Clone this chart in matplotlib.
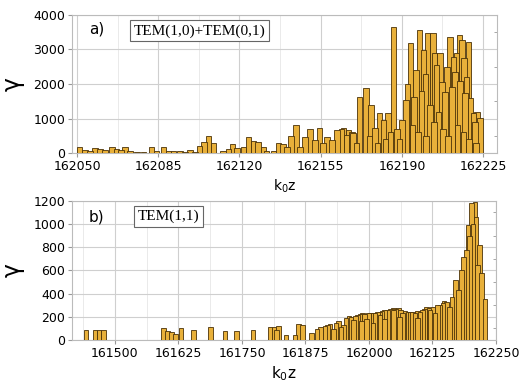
import matplotlib
matplotlib.use("Agg")
import matplotlib.pyplot as plt
from matplotlib.ticker import MultipleLocator

# ---------------- data: panel a) ----------------
a_pos = [162051, 162053.4, 162055.6, 162057.8, 162059.9, 162062, 162065, 162067,
         162068.8, 162070.7, 162072.8, 162075.7, 162078.6, 162082, 162084.3,
         162087.2, 162089.4, 162091.5, 162094.4, 162096.6,
         162098.7, 162100.9, 162102.7, 162104.7, 162106.6, 162108.8,
         162113, 162115.2, 162117, 162119, 162121.7, 162123.8, 162126, 162128,
         162130.3, 162131.7,
         162134.6, 162136.8, 162138.7, 162140.4, 162142.2, 162144.4, 162146,
         162148.3, 162150.4, 162152.6, 162154.5, 162156, 162157.6, 162159.8,
         162162, 162164, 162166.2, 162168.4,
         162164.8, 162167, 162169, 162171.7, 162174.6, 162176.6, 162178.4,
         162180.3, 162182, 162184, 162186.3, 162187.8, 162190, 162191.8,
         162193.8, 162195.3, 162197.5, 162199.3, 162201, 162203.3, 162205,
         162206.5, 162207.2, 162208.6, 162210.8, 162212.2, 162212.9, 162214.8,
         162215.8, 162216.8, 162217.2, 162218.7, 162220.8, 162221.5, 162222.5,
         162223.7,
         162192.5, 162196, 162198.5, 162200.2, 162202, 162204, 162205.8,
         162209.5, 162211.5, 162213.5, 162215, 162217.8, 162219.5, 162194.5,
         162197, 162200.5, 162203.8, 162207.8, 162210, 162214, 162216.5,
         162219, 162222, 162185, 162189, 162176, 162179.5, 162183, 162170.5]
a_val = [184, 87, 60, 155, 130, 90, 184, 120, 80, 184, 50, 40, 40, 184, 50,
         184, 60, 50, 50, 40,
         87, 40, 212, 328, 493, 300,
         50, 110, 251, 135, 184, 473, 357, 328, 184, 60,
         60, 300, 260, 184, 493, 811, 184, 473, 686, 377, 715, 280, 473, 377,
         666, 686, 520, 618,
         715, 667, 570, 1633, 1874, 1391, 715, 1150, 957, 1150, 3662, 700,
         957, 1536, 3179, 1633, 3565, 2985, 3469, 3469, 2550, 2889, 2068,
         1778, 3372, 2792, 2357, 3420, 3275, 2744, 1730, 3227, 1150, 908,
         1198, 1005,
         2000, 2400, 1800, 2300, 1400, 2900, 1200, 2500, 1900, 2900, 2100,
         2200, 1600, 800, 600, 500, 900, 700, 500, 800, 600, 400, 300, 600,
         400, 500, 300, 400, 300]

# ---------------- data: panel b) ----------------
b_pos = [161443, 161460.6, 161468.5, 161477.8,
         161595, 161603, 161611, 161619.4, 161630, 161654, 161688, 161716.5,
         161739.5, 161772, 161805, 161813, 161821.5, 161818, 161837, 161854,
         161861, 161869.5, 161887, 161898, 161913, 161923, 161930, 161939.6,
         161950, 161961, 161969, 161977, 161987.5, 161995, 162003, 162012,
         162021.6, 162036, 162048, 162057.7, 162066, 162077, 162090.6,
         162100.4, 162113.6,
         162022, 162048, 162081, 162120, 162140, 162153, 162163, 162176,
         162186, 162192, 162195, 162202, 162209, 162211, 162218, 162222,
         162228,
         162030, 162060, 162095, 162130, 162158, 162170, 162182, 162198,
         162205, 162214, 162008, 161985, 161945,
         161905, 161918, 161935, 161955, 161965, 161973, 161982, 161991,
         161999, 162008, 162017, 162026, 162031, 162042, 162053, 162062,
         162071, 162083, 162086, 162095, 162105, 162109, 162118, 162125,
         162135, 162146, 162148]
b_val = [86, 86, 86, 86,
         106, 80, 72, 52, 106, 86, 115, 80,
         80, 86, 115, 115, 123, 90, 43, 43,
         138, 130, 57, 98, 120, 138, 95, 167,
         130, 207, 172, 215, 230, 178, 236, 230,
         215, 258, 273, 273, 236, 244, 230,
         244, 282,
         244, 259, 244, 260, 300, 330, 374, 430,
         718, 776, 990, 1178, 1190, 1063, 820, 575,
         350,
         180, 200, 190, 230, 280, 520, 600, 900,
         1000, 650, 150, 160, 110,
         110, 130, 150, 190, 200, 210, 220, 225,
         230, 235, 240, 250, 255, 265, 270, 260,
         250, 245, 240, 250, 255, 265, 275, 285,
         300, 320, 340]

FACE = "#E8B03A"
EDGE = "#4a3208"
GRID = "#cfcfcf"

plt.rcParams['font.family'] = ['DejaVu Sans']

fig = plt.figure(figsize=(5.24, 3.85), dpi=100)
ax1 = fig.add_axes([72/524, 1-153/385, (497-72)/524, 138/385])
ax2 = fig.add_axes([72/524, 1-340/385, (496-72)/524, 139.3/385])


def draw(ax, pos, val, width):
    order = sorted(range(len(val)), key=lambda i: -val[i])
    ax.bar([pos[i] for i in order], [val[i] for i in order], width=width,
           color=FACE, edgecolor=EDGE, linewidth=0.6, zorder=3)
    ax.grid(True, which='major', color=GRID, linewidth=0.8, zorder=0)
    ax.grid(True, which='minor', axis='x', color="#e6e6e6", linewidth=0.6, zorder=0)
    for s in ax.spines.values():
        s.set_color("#bbbbbb")
        s.set_linewidth(0.8)
    ax.tick_params(axis='both', which='major', labelsize=9, length=3,
                   color="#999999", pad=2)
    ax.tick_params(axis='y', which='minor', left=False, right=True,
                   direction='in', length=2, color="#999999")
    ax.tick_params(axis='x', which='minor', bottom=False)
    ax.set_ylabel("γ", fontsize=17, labelpad=6)


draw(ax1, a_pos, a_val, 2.4)
ax1.set_xlim(162047.8, 162231)
ax1.set_ylim(0, 4000)
ax1.set_xticks([162050, 162085, 162120, 162155, 162190, 162225])
ax1.xaxis.set_minor_locator(MultipleLocator(17.5))
ax1.set_yticks([0, 1000, 2000, 3000, 4000])
ax1.yaxis.set_minor_locator(MultipleLocator(500))
ax1.set_xlabel("k$_0$z", fontsize=10, labelpad=3)
ax1.text(0.04, 0.90, "a)", transform=ax1.transAxes, fontsize=11,
         ha='left', va='center')
ax1.text(0.145, 0.885, "TEM(1,0)+TEM(0,1)", transform=ax1.transAxes,
         fontsize=11, family='Liberation Serif', ha='left', va='center',
         bbox=dict(boxstyle='square,pad=0.25', facecolor='white',
                   edgecolor='#666666', linewidth=0.8), zorder=5)

draw(ax2, b_pos, b_val, 9)
ax2.set_xlim(161415.4, 162250)
ax2.set_ylim(0, 1200)
ax2.set_xticks([161500, 161625, 161750, 161875, 162000, 162125, 162250])
ax2.xaxis.set_minor_locator(MultipleLocator(62.5))
ax2.set_yticks([0, 200, 400, 600, 800, 1000, 1200])
ax2.yaxis.set_minor_locator(MultipleLocator(100))
ax2.set_xlabel("k$_0$z", fontsize=11, labelpad=3)
ax2.text(0.04, 0.88, "b)", transform=ax2.transAxes, fontsize=11,
         ha='left', va='center')
ax2.text(0.155, 0.885, "TEM(1,1)", transform=ax2.transAxes,
         fontsize=11, family='Liberation Serif', ha='left', va='center',
         bbox=dict(boxstyle='square,pad=0.25', facecolor='white',
                   edgecolor='#666666', linewidth=0.8), zorder=5)

fig.savefig("out.png", dpi=100)
